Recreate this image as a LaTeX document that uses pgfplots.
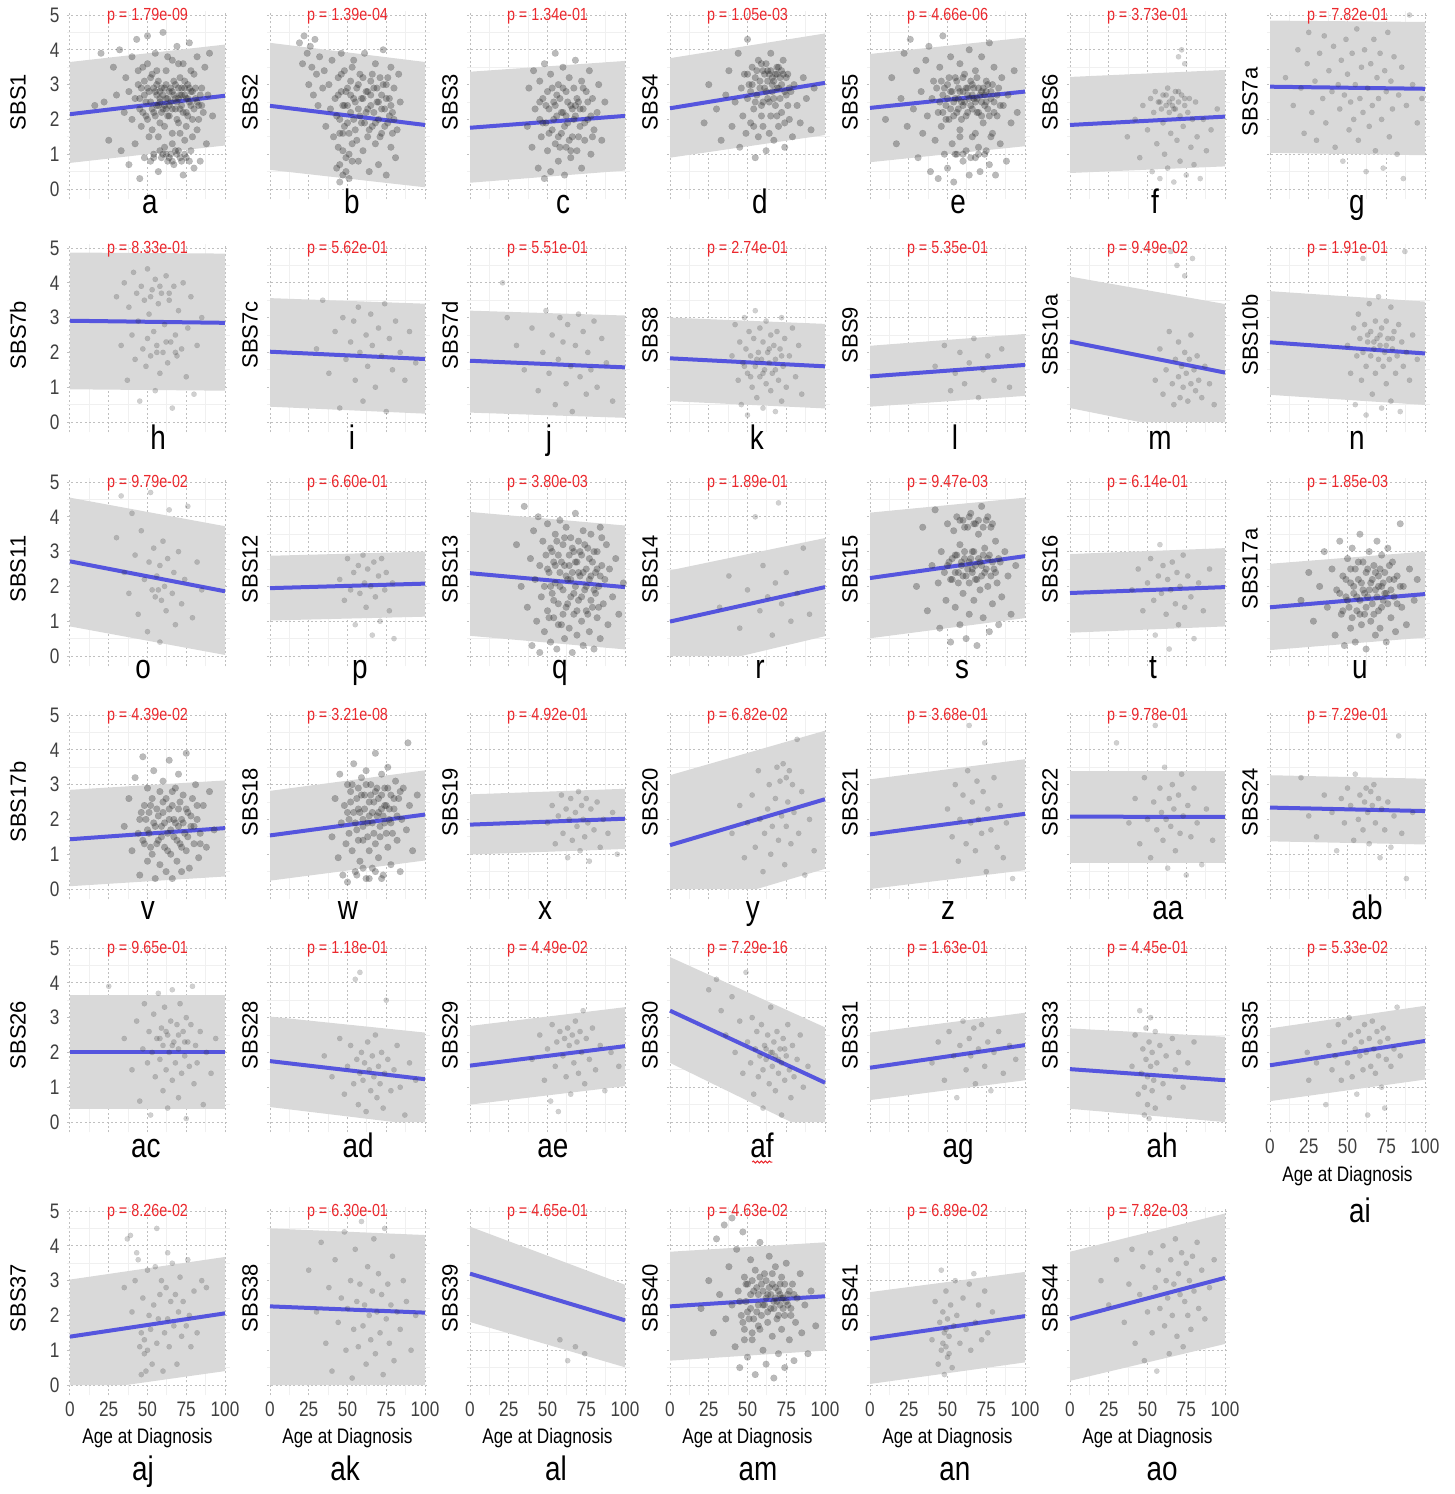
\documentclass[border=0pt]{standalone}
\usepackage{pgfplots}
\pgfplotsset{compat=1.18}
\usepackage{fontspec}
\setmainfont{Liberation Sans}
\newfontfamily\cond[FakeStretch=0.82]{Liberation Sans}
\usetikzlibrary{decorations.pathmorphing}
\definecolor{bandgray}{RGB}{217,217,217}
\definecolor{ptgray}{RGB}{40,40,40}
\definecolor{lineblue}{RGB}{85,85,222}
\definecolor{pred}{RGB}{235,40,45}
\pgfplotsset{
  pnl/.style={scale only axis, width=81.375pt, height=94.308pt,
    xmin=-2, xmax=103, ymin=-0.3, ymax=5.12, clip=false,
    axis line style={draw=none}, major tick length=0pt, minor tick length=0pt,
    xtick={0,25,50,75,100}, ytick={0,1,2,3,4,5},
    minor xtick={12.5,37.5,62.5,87.5}, minor ytick={0.5,1.5,2.5,3.5,4.5},
    grid=both, major grid style={gray!50, line width=0.5pt, dash pattern=on 1pt off 1.2pt},
    minor grid style={gray!12, line width=0.4pt},
    xticklabels={}, yticklabels={}, anchor=south west,
    /pgf/number format/assume math mode=true},
  lft/.style={yticklabels={0,1,2,3,4,5}, yticklabel style={font=\cond\fontsize{10.5}{12}\selectfont, text=black!75, anchor=east, inner sep=0pt, xshift=-3.5pt}},
  bot/.style={xticklabels={0,25,50,75,100}, xticklabel style={font=\cond\fontsize{10.5}{12}\selectfont, text=black!75, anchor=north, inner sep=0pt, yshift=-3pt}},
  band/.style={fill=bandgray, draw=none},
  pts/.style={only marks, mark=*, mark size=1.35pt, color=ptgray, opacity=0.22, mark options={fill=ptgray, draw=ptgray, line width=0.01pt}},
  ptsd/.style={only marks, mark=*, mark size=1.7pt, color=ptgray, opacity=0.32, mark options={fill=ptgray, draw=ptgray, line width=0.01pt}},
  reg/.style={draw=lineblue, line width=2pt, no marks}
}
\newcommand\pv[1]{\node[font=\cond\fontsize{8.75}{10}\selectfont, text=pred] at (axis cs:50,4.97) {p = #1};}
\newcommand\yl[2]{\node[rotate=90, font=\fontsize{11}{13}\selectfont] at (axis cs:#1,2.5) {#2};}
\newcommand\lt[3]{\node[anchor=base, font=\cond\fontsize{17}{20}\selectfont] at (axis cs:#1,#2) {#3};}
\newcommand\xl[1]{\node[anchor=base, font=\cond\fontsize{10.5}{12}\selectfont] at (axis cs:50,#1) {Age at Diagnosis};}
\begin{document}
\begin{tikzpicture}
\useasboundingbox (0,0) rectangle (727.5pt,-747pt);
%================ ROW 1 ================
\begin{axis}[pnl, lft, at={(33.45pt,-99.72pt)}]
\addplot[band] coordinates {(0,0.75)(100,1.25)(100,4.15)(0,3.65)};
\addplot[ptsd] coordinates {(16,2.4)(20,3.9)(22,2.5)(25,1.4)(28,3.5)(30,2.7)(32,4.0)(33,1.1)(35,2.2)(36,3.2)(38,0.7)(38,2.8)(40,3.8)(40,2.0)(42,1.3)(42,2.6)(43,4.3)(44,3.0)(45,0.3)(45,2.3)(46,1.8)(47,3.5)(48,2.7)(48,0.9)(49,2.1)(50,4.4)(50,2.9)(51,1.5)(52,2.5)(52,0.8)(53,3.3)(54,2.2)(54,1.0)(55,2.8)(55,3.9)(56,2.4)(57,0.5)(57,3.1)(58,2.6)(58,1.9)(59,0.9)(60,2.3)(60,4.5)(61,2.9)(61,1.2)(62,2.6)(62,3.4)(63,0.8)(63,2.1)(64,2.8)(65,1.0)(65,2.5)(66,3.7)(66,1.6)(67,2.7)(67,0.7)(68,2.3)(68,3.0)(69,4.1)(69,1.0)(70,2.6)(70,1.9)(71,3.2)(71,0.9)(72,2.4)(72,2.9)(73,0.4)(73,3.6)(74,2.7)(74,1.4)(75,2.2)(75,0.9)(76,3.0)(77,2.5)(77,4.2)(78,1.1)(78,2.8)(79,2.0)(80,3.3)(80,0.6)(81,2.6)(82,1.7)(82,3.8)(83,2.4)(84,0.8)(85,2.9)(86,2.2)(87,3.5)(88,1.3)(89,2.7)(90,3.9)(92,2.1)(56,2.7)(59,2.9)(64,2.4)(66,2.8)(69,2.5)(71,2.7)(74,2.9)(76,2.6)(62,2.3)(58,2.5)(60,1.0)(64,0.9)(68,1.1)(72,0.8)
(45,2.6)(46,2.9)(47,2.2)(48,3.1)(49,2.5)(50,2.0)(51,2.8)(52,3.2)(53,2.3)(54,2.9)(55,2.1)(56,3.0)(57,2.4)(58,2.8)(59,2.2)(60,2.7)(61,2.4)(62,3.0)(63,2.6)(64,2.1)(65,2.9)(66,2.3)(67,3.1)(68,2.6)(69,2.0)(70,2.9)(71,2.3)(72,2.7)(73,2.2)(74,3.1)(75,2.6)(76,2.1)(77,2.9)(78,2.4)(79,2.8)(80,2.3)(81,2.9)(82,2.5)(83,2.0)(84,2.7)(85,2.4)(53,1.7)(57,1.5)(61,1.8)(66,1.3)(71,1.6)(75,1.8)(79,1.5)(54,0.9)(58,1.1)(62,1.0)(66,0.8)(70,1.1)(74,1.0)(77,0.8)(44,3.4)(50,3.6)(56,3.4)(63,3.8)(70,3.6)(78,3.4)};
\addplot[reg] coordinates {(0,2.15)(100,2.68)};
\pv{1.79e-09}\yl{-33.5}{SBS1}\lt{51.6}{-0.69}{a}
\end{axis}
\begin{axis}[pnl, at={(133.45pt,-99.72pt)}]
\addplot[band] coordinates {(0,0.55)(100,0.05)(100,3.65)(0,4.2)};
\addplot[ptsd] coordinates {(19,4.2)(21,3.6)(22,4.4)(24,3.9)(25,3.0)(26,4.1)(27,3.5)(28,2.7)(29,4.3)(30,3.3)(31,2.4)(32,3.8)(34,2.9)(35,3.4)(36,1.8)(38,3.0)(39,2.3)(40,3.7)(41,1.5)(42,2.6)(43,0.6)(44,3.2)(44,1.2)(45,2.0)(45,0.2)(46,2.8)(46,3.9)(47,1.6)(47,0.4)(48,2.4)(48,3.4)(49,0.9)(50,2.9)(50,1.9)(51,0.3)(52,3.1)(52,2.2)(53,1.3)(54,2.6)(54,3.7)(55,1.7)(56,2.9)(57,0.8)(57,2.3)(58,3.3)(59,1.9)(60,2.6)(60,1.1)(61,3.9)(62,2.2)(63,2.8)(63,1.5)(64,0.5)(65,3.1)(65,2.4)(66,1.8)(67,2.9)(68,3.6)(68,1.3)(69,2.5)(70,2.0)(70,0.7)(71,3.2)(72,2.7)(72,1.6)(73,4.0)(74,2.3)(75,0.4)(75,3.0)(76,1.9)(77,2.6)(78,3.5)(78,1.2)(79,2.2)(80,2.9)(81,0.9)(82,1.7)(83,3.3)(84,2.5)
(43,2.1)(44,2.7)(45,1.6)(46,3.3)(47,2.4)(48,1.8)(49,2.8)(50,2.4)(51,1.6)(52,2.7)(53,3.5)(54,2.0)(55,2.5)(56,1.4)(57,3.0)(58,2.1)(59,2.6)(60,3.2)(61,1.9)(62,2.8)(63,2.3)(64,1.7)(65,2.7)(66,3.3)(67,2.2)(68,1.9)(69,2.9)(70,2.5)(71,1.5)(72,2.3)(73,3.0)(74,1.8)(75,2.6)(76,3.2)(77,2.1)(78,2.4)(79,1.6)(80,2.0)(45,0.7)(47,1.1)(49,0.5)(51,1.0)(53,0.8)};
\addplot[reg] coordinates {(0,2.39)(100,1.84)};
\pv{1.39e-04}\yl{-12.9}{SBS2}\lt{52.9}{-0.69}{b}
\end{axis}
\begin{axis}[pnl, at={(233.45pt,-99.72pt)}]
\addplot[band] coordinates {(0,0.18)(100,0.53)(100,3.68)(0,3.37)};
\addplot[ptsd] coordinates {(37,1.8)(38,2.9)(40,1.2)(41,3.4)(42,2.3)(44,0.6)(45,2.0)(45,3.1)(46,1.5)(47,2.6)(48,0.3)(48,3.6)(49,1.9)(50,2.8)(50,1.1)(51,2.3)(52,3.3)(52,0.5)(53,1.7)(54,2.5)(55,3.9)(55,1.3)(56,2.1)(57,3.0)(57,0.8)(58,2.6)(59,1.6)(60,3.5)(60,2.2)(61,0.4)(62,2.8)(62,1.2)(63,1.9)(64,3.2)(65,2.4)(65,0.9)(66,1.5)(67,2.9)(68,2.1)(68,3.7)(69,1.1)(70,2.5)(71,1.8)(72,3.1)(72,0.6)(73,2.3)(74,1.4)(75,2.8)(76,2.0)(77,3.4)(78,1.0)(79,2.6)(80,1.7)(82,2.2)(83,3.0)(85,1.4)(87,2.5)
(45,2.5)(47,1.9)(49,2.4)(51,1.6)(53,2.9)(54,2.0)(56,2.7)(57,1.5)(59,2.2)(60,2.9)(61,1.8)(63,2.5)(64,1.4)(66,2.3)(67,2.0)(69,2.6)(70,1.5)(71,2.3)(73,2.9)(74,1.9)(76,2.5)(78,2.1)(79,1.5)(55,2.4)(62,2.1)(68,2.4)(58,1.2)(65,1.1)};
\addplot[reg] coordinates {(0,1.76)(100,2.1)};
\pv{1.34e-01}\yl{-12.9}{SBS3}\lt{60}{-0.69}{c}
\end{axis}
\begin{axis}[pnl, at={(333.45pt,-99.72pt)}]
\addplot[band] coordinates {(0,0.9)(100,1.55)(100,4.47)(0,3.76)};
\addplot[ptsd] coordinates {(22,1.9)(25,3.0)(30,2.3)(33,1.4)(36,2.7)(38,3.4)(40,1.8)(42,2.5)(44,3.9)(45,1.2)(46,2.9)(47,2.1)(48,3.3)(49,1.6)(50,2.6)(50,4.3)(51,3.0)(52,1.9)(53,3.5)(54,2.3)(55,0.9)(55,3.2)(56,2.7)(57,3.7)(57,1.5)(58,3.1)(59,2.4)(60,3.4)(60,1.8)(61,2.9)(62,3.6)(62,1.1)(63,2.6)(64,3.3)(65,2.1)(65,3.9)(66,2.8)(67,3.1)(67,1.4)(68,2.4)(69,3.5)(70,2.9)(70,1.8)(71,3.2)(72,2.2)(73,3.7)(74,1.2)(75,2.7)(76,3.3)(77,2.0)(78,2.8)(79,1.5)(80,3.0)(82,2.4)(84,1.9)(86,3.2)(88,2.6)(91,1.7)(93,2.9)(63,3.4)(66,3.2)(69,3.3)(72,3.4)
(50,3.3)(52,2.8)(53,3.0)(55,2.5)(56,3.4)(58,2.9)(59,3.6)(60,2.5)(61,3.3)(62,2.8)(63,3.1)(64,2.5)(65,3.4)(66,3.0)(67,2.6)(68,3.3)(69,2.9)(70,3.5)(71,2.6)(72,3.0)(73,3.3)(74,2.8)(75,3.2)(76,2.4)(77,2.9)(54,1.8)(59,2.1)(64,1.6)(69,2.1)(74,1.9)};
\addplot[reg] coordinates {(0,2.32)(100,3.05)};
\pv{1.05e-03}\yl{-12.9}{SBS4}\lt{58}{-0.69}{d}
\end{axis}
\begin{axis}[pnl, at={(433.45pt,-99.72pt)}]
\addplot[band] coordinates {(0,0.77)(100,1.23)(100,4.35)(0,3.88)};
\addplot[ptsd] coordinates {(10,2.0)(14,3.2)(17,1.3)(20,2.6)(22,3.9)(24,1.8)(26,4.3)(28,2.3)(30,3.4)(31,0.9)(33,2.8)(34,1.6)(36,3.7)(37,2.1)(38,4.1)(39,0.5)(40,2.6)(41,3.1)(42,1.4)(43,2.9)(44,0.3)(44,2.2)(45,3.5)(46,1.8)(47,2.7)(47,4.4)(48,1.0)(49,2.4)(50,3.0)(50,0.6)(51,2.0)(52,2.8)(52,3.8)(53,1.3)(54,2.5)(54,0.2)(55,3.2)(56,2.2)(56,1.0)(57,2.9)(58,1.7)(58,3.6)(59,2.5)(60,0.8)(60,2.8)(61,3.3)(62,2.1)(62,1.1)(63,2.7)(64,4.0)(64,0.4)(65,2.4)(66,3.0)(66,1.5)(67,2.6)(68,0.9)(68,3.4)(69,2.2)(70,2.9)(70,1.2)(71,0.5)(72,2.5)(72,3.8)(73,1.9)(74,2.7)(74,1.0)(75,3.1)(76,2.3)(77,0.7)(77,4.2)(78,2.8)(79,1.6)(80,2.5)(80,3.5)(81,0.4)(82,2.1)(83,2.9)(84,1.3)(85,3.2)(86,2.4)(88,0.8)(89,2.7)(91,1.9)(93,3.4)(95,2.2)(57,2.6)(60,2.4)(63,2.9)(66,2.7)(69,2.6)(72,2.8)(75,2.5)
(45,2.5)(46,3.1)(47,2.2)(48,2.9)(49,2.0)(50,2.6)(51,3.2)(52,2.3)(53,2.8)(54,2.1)(55,2.6)(56,3.1)(57,2.3)(58,2.8)(59,2.0)(60,3.2)(61,2.5)(62,2.9)(63,2.2)(64,2.6)(65,3.1)(66,2.3)(67,2.9)(68,2.5)(69,3.2)(70,2.2)(71,2.7)(72,2.1)(73,2.9)(74,2.4)(75,2.8)(76,3.0)(77,2.1)(78,2.6)(79,3.0)(80,2.2)(82,2.7)(84,2.4)(55,1.0)(60,1.0)(65,0.9)(70,1.0)(75,1.1)(58,1.5)(68,1.6)(78,1.5)};
\addplot[reg] coordinates {(0,2.33)(100,2.8)};
\pv{4.66e-06}\yl{-12.9}{SBS5}\lt{56.8}{-0.69}{e}
\end{axis}
\begin{axis}[pnl, at={(533.45pt,-99.72pt)}]
\addplot[band] coordinates {(0,0.46)(100,0.65)(100,3.42)(0,3.22)};
\addplot[pts] coordinates {(37,1.5)(42,2.0)(45,0.9)(47,2.4)(50,1.7)(52,2.6)(53,0.5)(54,2.2)(55,2.8)(56,1.3)(57,2.5)(58,0.3)(59,2.3)(60,2.7)(60,1.9)(61,1.0)(62,2.4)(63,2.9)(63,0.6)(64,2.2)(65,1.6)(66,2.6)(67,0.2)(67,2.3)(68,2.8)(69,1.4)(70,2.5)(70,3.8)(71,2.1)(71,0.8)(72,4.0)(72,2.7)(73,1.8)(74,3.6)(74,2.4)(75,0.4)(76,2.2)(77,2.6)(78,1.2)(79,2.0)(80,0.7)(81,2.5)(82,1.5)(84,0.3)(86,2.0)(88,1.1)(91,1.7)(95,2.3)(58,2.5)(62,2.7)(66,2.4)(70,2.8)(74,2.6)(64,2.5)(68,2.3)};
\addplot[reg] coordinates {(0,1.84)(100,2.08)};
\pv{3.73e-01}\yl{-12.9}{SBS6}\lt{54.8}{-0.69}{f}
\end{axis}
\begin{axis}[pnl, at={(633.45pt,-99.72pt)}]
\addplot[band] coordinates {(0,1.04)(100,0.97)(100,4.8)(0,4.84)};
\addplot[pts] coordinates {(10,3.2)(15,2.4)(18,4.0)(20,2.9)(22,1.6)(24,3.6)(25,4.5)(27,2.2)(29,3.1)(30,1.4)(32,3.9)(34,2.6)(35,4.4)(36,1.9)(38,3.4)(40,2.8)(41,4.1)(42,1.2)(44,3.0)(45,2.3)(46,3.7)(47,0.8)(48,2.7)(49,4.3)(50,3.3)(51,1.7)(52,2.5)(53,3.9)(54,2.0)(55,3.0)(56,4.6)(57,1.4)(58,2.6)(59,3.5)(60,2.2)(61,4.0)(62,0.5)(63,2.9)(64,1.8)(65,3.6)(66,2.4)(67,4.3)(68,1.1)(69,3.2)(70,2.6)(71,3.9)(72,2.0)(73,0.6)(74,3.4)(75,2.8)(76,4.5)(77,1.5)(78,3.1)(79,2.3)(80,3.8)(82,1.0)(83,2.7)(85,3.5)(86,0.3)(88,2.4)(90,5.0)(92,3.0)(95,1.9)(98,2.6)};
\addplot[reg] coordinates {(0,2.94)(100,2.88)};
\pv{7.82e-01}\yl{-12.9}{SBS7a}\lt{56.1}{-0.69}{g}
\end{axis}
%================ ROW 2 ================
\begin{axis}[pnl, lft, at={(33.45pt,-216.22pt)}]
\addplot[band] coordinates {(0,0.94)(100,0.9)(100,4.84)(0,4.87)};
\addplot[pts] coordinates {(30,3.6)(33,2.2)(35,4.0)(37,1.2)(38,3.3)(40,2.5)(41,4.3)(42,1.8)(43,3.7)(44,2.9)(45,0.6)(46,3.9)(47,2.1)(48,3.5)(49,1.6)(50,4.4)(50,2.4)(51,3.1)(52,1.9)(53,3.8)(54,2.6)(55,0.9)(55,4.1)(56,2.2)(57,3.4)(58,1.4)(59,3.7)(60,2.0)(61,2.8)(62,4.2)(63,1.7)(64,3.5)(65,2.3)(66,0.4)(67,3.9)(68,2.5)(69,1.9)(70,3.2)(72,2.1)(73,4.0)(75,1.3)(76,2.7)(78,3.6)(80,0.8)(82,2.2)(85,3.0)(52,3.6)(58,3.9)(64,3.7)(56,2.0)(62,2.3)(68,2.0)};
\addplot[reg] coordinates {(0,2.91)(100,2.85)};
\pv{8.33e-01}\yl{-33.5}{SBS7b}\lt{56.8}{-0.8}{h}
\end{axis}
\begin{axis}[pnl, at={(133.45pt,-216.22pt)}]
\addplot[band] coordinates {(0,0.44)(100,0.24)(100,3.4)(0,3.56)};
\addplot[pts] coordinates {(30,2.1)(34,3.5)(38,1.4)(42,2.6)(45,0.4)(47,3.0)(49,1.8)(52,2.3)(54,2.9)(55,1.2)(57,3.3)(58,2.0)(60,0.6)(62,2.5)(63,1.6)(65,3.1)(66,2.2)(68,1.0)(70,2.7)(72,1.9)(74,3.4)(75,0.3)(77,2.4)(79,1.5)(81,2.9)(84,2.0)(87,1.2)(90,2.6)(94,1.7)};
\addplot[reg] coordinates {(0,2.02)(100,1.81)};
\pv{5.62e-01}\yl{-12.9}{SBS7c}\lt{52.9}{-0.8}{i}
\end{axis}
\begin{axis}[pnl, at={(233.45pt,-216.22pt)}]
\addplot[band] coordinates {(0,0.27)(100,0.12)(100,3.06)(0,3.2)};
\addplot[pts] coordinates {(21,4.0)(24,3.0)(30,2.2)(35,1.5)(40,2.7)(44,0.9)(47,2.0)(49,3.2)(51,1.4)(53,2.5)(55,0.5)(57,1.8)(58,3.0)(60,2.3)(62,1.1)(63,2.8)(65,1.6)(66,0.3)(68,2.2)(70,3.1)(71,1.3)(73,2.6)(75,0.8)(76,2.0)(78,1.5)(80,2.9)(82,1.0)(85,2.4)(88,1.7)(92,0.6)};
\addplot[reg] coordinates {(0,1.76)(100,1.57)};
\pv{5.51e-01}\yl{-12.9}{SBS7d}\lt{51}{-0.8}{j}
\end{axis}
\begin{axis}[pnl, at={(333.45pt,-216.22pt)}]
\addplot[band] coordinates {(0,0.6)(100,0.39)(100,2.82)(0,3.0)};
\addplot[pts] coordinates {(40,1.9)(42,2.8)(44,1.2)(45,2.3)(46,0.5)(47,1.7)(48,3.0)(49,2.1)(50,1.4)(50,0.2)(51,2.6)(52,1.9)(53,1.0)(54,2.4)(55,1.6)(55,3.2)(56,0.7)(57,2.0)(58,1.3)(58,2.7)(59,1.8)(60,0.4)(60,2.3)(61,1.5)(62,2.9)(62,1.1)(63,2.0)(64,1.7)(65,0.9)(65,2.5)(66,1.4)(67,2.2)(68,0.3)(68,1.8)(69,2.6)(70,1.2)(71,2.1)(72,0.6)(72,3.0)(73,1.6)(74,2.4)(75,1.0)(77,1.9)(79,2.7)(81,1.3)(83,2.2)(85,0.8)(48,1.6)(52,1.3)(56,1.8)(60,1.4)(64,2.1)(68,1.5)(72,1.9)};
\addplot[reg] coordinates {(0,1.83)(100,1.6)};
\pv{2.74e-01}\yl{-12.9}{SBS8}\lt{56.1}{-0.8}{k}
\end{axis}
\begin{axis}[pnl, at={(433.45pt,-216.22pt)}]
\addplot[band] coordinates {(0,0.44)(100,0.75)(100,2.53)(0,2.19)};
\addplot[pts] coordinates {(42,1.6)(48,2.2)(52,0.9)(55,1.4)(58,2.0)(61,1.1)(64,1.7)(67,2.4)(70,0.7)(73,1.5)(76,1.9)(80,1.2)(85,2.1)(90,1.0)};
\addplot[reg] coordinates {(0,1.31)(100,1.64)};
\pv{5.35e-01}\yl{-12.9}{SBS9}\lt{54.8}{-0.8}{l}
\end{axis}
\begin{axis}[pnl, at={(533.45pt,-216.22pt)}]
\addplot[band] coordinates {(0,0.4)(45,0)(100,0)(100,3.39)(0,4.18)};
\addplot[pts] coordinates {(55,1.2)(58,2.1)(60,0.8)(62,1.5)(64,2.6)(65,4.9)(66,1.1)(67,0.5)(68,1.8)(69,4.5)(70,1.3)(70,2.3)(71,0.7)(72,1.6)(73,1.0)(74,2.0)(74,4.2)(75,1.4)(76,0.6)(77,1.8)(78,1.1)(78,2.5)(79,4.7)(80,1.5)(81,0.9)(82,1.9)(83,1.2)(85,0.7)(87,1.6)(90,1.1)(93,0.5)};
\addplot[reg] coordinates {(0,2.31)(100,1.42)};
\pv{9.49e-02}\yl{-12.9}{SBS10a}\lt{58}{-0.8}{m}
\end{axis}
\begin{axis}[pnl, at={(633.45pt,-216.22pt)}]
\addplot[band] coordinates {(0,0.78)(100,0.49)(100,3.46)(0,3.76)};
\addplot[pts] coordinates {(50,2.2)(52,1.4)(54,2.7)(55,0.5)(56,1.9)(57,3.1)(58,2.4)(59,1.2)(60,2.0)(60,4.7)(61,2.8)(62,1.6)(62,0.2)(63,2.3)(64,3.4)(65,1.9)(65,2.6)(66,0.8)(67,2.1)(68,2.9)(68,1.4)(69,2.4)(70,1.8)(70,3.6)(71,2.2)(72,0.4)(72,2.7)(73,1.6)(74,2.0)(75,2.9)(75,1.1)(76,2.4)(77,1.8)(78,3.3)(78,0.6)(79,2.1)(80,2.6)(81,1.4)(82,1.9)(83,2.8)(84,0.3)(85,2.3)(86,1.6)(87,4.9)(88,2.0)(90,1.2)(92,2.5)(95,1.8)(63,2.5)(67,2.3)(71,2.5)(75,2.2)(79,2.4)};
\addplot[reg] coordinates {(0,2.29)(100,1.97)};
\pv{1.91e-01}\yl{-12.9}{SBS10b}\lt{56.1}{-0.8}{n}
\end{axis}
%================ ROW 3 ================
\begin{axis}[pnl, lft, at={(33.45pt,-333.22pt)}]
\addplot[band] coordinates {(0,0.85)(100,0.03)(100,3.73)(0,4.55)};
\addplot[pts] coordinates {(30,3.4)(33,4.6)(35,2.4)(38,1.8)(40,4.1)(42,2.9)(44,1.2)(46,3.6)(48,2.2)(50,0.7)(51,2.7)(52,4.7)(53,1.9)(54,3.1)(55,1.7)(56,2.3)(57,1.9)(58,0.4)(58,2.6)(59,1.6)(60,3.3)(61,2.0)(62,1.3)(63,2.8)(64,4.2)(66,1.8)(67,2.4)(68,0.9)(70,3.0)(72,1.5)(74,2.2)(76,4.3)(79,1.1)(82,2.7)(85,1.9)};
\addplot[reg] coordinates {(0,2.72)(100,1.86)};
\pv{9.79e-02}\yl{-33.5}{SBS11}\lt{47.1}{-0.66}{o}
\end{axis}
\begin{axis}[pnl, at={(133.45pt,-333.22pt)}]
\addplot[band] coordinates {(0,1.02)(100,1.13)(100,3.0)(0,2.88)};
\addplot[pts] coordinates {(45,2.2)(48,1.6)(50,2.8)(52,1.9)(54,2.4)(55,0.9)(57,2.6)(58,1.8)(60,2.9)(61,2.1)(62,1.4)(63,2.5)(65,2.0)(66,0.6)(67,2.7)(68,1.7)(70,2.3)(71,1.0)(72,2.8)(74,1.9)(75,2.4)(77,1.3)(79,2.1)(80,0.5)};
\addplot[reg] coordinates {(0,1.95)(100,2.08)};
\pv{6.60e-01}\yl{-12.9}{SBS12}\lt{58}{-0.66}{p}
\end{axis}
\begin{axis}[pnl, at={(233.45pt,-333.22pt)}]
\addplot[band] coordinates {(0,0.58)(100,0.19)(100,3.75)(0,4.14)};
\addplot[ptsd] coordinates {(30,3.2)(33,2.0)(35,4.3)(37,1.4)(39,2.8)(40,0.3)(41,3.6)(42,2.2)(43,1.0)(44,4.0)(45,2.6)(45,0.1)(46,1.7)(47,3.3)(48,2.0)(48,0.7)(49,2.9)(50,1.3)(50,3.8)(51,2.4)(52,0.4)(52,3.1)(53,1.8)(54,2.7)(54,1.1)(55,3.5)(55,2.1)(56,0.2)(57,2.9)(57,1.5)(58,3.9)(58,2.4)(59,0.9)(60,1.9)(60,3.2)(61,2.6)(61,0.5)(62,1.4)(62,3.7)(63,2.2)(64,2.9)(64,0.8)(65,1.7)(65,3.4)(66,2.4)(66,0.1)(67,1.2)(67,3.0)(68,2.0)(68,4.1)(69,2.7)(69,0.6)(70,1.6)(70,3.3)(71,2.3)(72,1.0)(72,2.9)(73,0.3)(73,3.6)(74,1.9)(75,2.5)(75,1.3)(76,3.1)(77,0.7)(77,2.2)(78,1.6)(78,3.5)(79,2.7)(80,0.2)(80,1.9)(81,2.4)(82,3.0)(82,1.1)(83,2.0)(84,3.7)(84,0.5)(85,2.6)(86,1.5)(87,2.2)(88,3.2)(89,0.9)(90,2.5)(92,1.7)(94,2.8)(96,1.2)(99,2.1)
(50,2.5)(51,1.1)(52,2.0)(53,3.0)(54,1.6)(55,2.6)(56,3.3)(57,0.9)(58,2.0)(59,2.7)(60,1.2)(61,3.4)(62,2.3)(63,1.5)(64,2.6)(65,2.2)(66,3.1)(67,1.8)(68,2.7)(69,1.3)(70,2.4)(71,3.0)(72,1.7)(73,2.4)(74,3.2)(75,2.0)(76,1.2)(77,2.8)(78,2.3)(79,1.4)(80,3.0)(81,1.8)(82,2.5)(83,1.4)(84,2.3)(85,3.4)};
\addplot[reg] coordinates {(0,2.38)(100,1.98)};
\pv{3.80e-03}\yl{-12.9}{SBS13}\lt{58}{-0.66}{q}
\end{axis}
\begin{axis}[pnl, at={(333.45pt,-333.22pt)}]
\addplot[band] coordinates {(0,0)(46,0)(100,0.57)(100,3.39)(0,2.46)};
\addplot[pts] coordinates {(32,1.4)(38,2.3)(45,0.8)(50,1.9)(55,4.0)(58,1.3)(60,2.6)(63,1.7)(66,0.6)(68,2.1)(70,4.4)(72,1.5)(75,2.4)(78,1.0)(82,1.8)(86,3.1)(90,1.2)};
\addplot[reg] coordinates {(0,0.99)(100,1.98)};
\pv{1.89e-01}\yl{-12.9}{SBS14}\lt{58}{-0.66}{r}
\end{axis}
\begin{axis}[pnl, at={(433.45pt,-333.22pt)}]
\addplot[band] coordinates {(0,0.51)(100,1.09)(100,4.55)(0,4.12)};
\addplot[ptsd] coordinates {(30,2.0)(34,3.7)(37,1.3)(40,2.6)(42,4.2)(44,2.1)(45,0.8)(46,3.0)(48,2.4)(49,1.6)(50,3.8)(51,2.7)(52,0.4)(53,2.2)(54,3.6)(55,2.9)(55,1.4)(56,4.0)(57,2.4)(58,0.9)(58,3.2)(59,2.6)(60,3.9)(60,1.8)(61,2.8)(62,0.5)(62,2.3)(63,3.7)(64,2.7)(64,1.2)(65,4.1)(66,2.5)(66,3.0)(67,1.6)(68,3.8)(68,2.2)(69,0.3)(70,2.8)(70,3.5)(71,1.9)(72,2.6)(72,4.3)(73,1.1)(74,3.1)(74,2.4)(75,3.9)(76,2.0)(77,0.7)(77,2.9)(78,3.7)(79,1.5)(80,2.5)(81,3.3)(82,2.1)(83,0.9)(84,2.7)(85,1.7)(87,3.0)(89,2.3)(91,1.2)(94,2.6)
(50,2.6)(52,2.2)(53,2.8)(55,2.4)(56,2.9)(57,2.1)(59,2.7)(60,2.3)(61,3.0)(63,2.5)(64,2.1)(65,2.8)(66,2.4)(67,3.0)(68,2.6)(69,2.2)(71,2.7)(72,2.3)(73,2.9)(75,2.5)(76,2.8)(78,2.3)(79,2.7)(81,2.4)(83,2.8)(58,3.9)(61,3.7)(64,4.0)(67,3.8)(70,3.9)(73,3.7)(76,4.0)(79,3.8)};
\addplot[reg] coordinates {(0,2.24)(100,2.87)};
\pv{9.47e-03}\yl{-12.9}{SBS15}\lt{59.4}{-0.66}{s}
\end{axis}
\begin{axis}[pnl, at={(533.45pt,-333.22pt)}]
\addplot[band] coordinates {(0,0.67)(100,0.85)(100,3.1)(0,2.93)};
\addplot[pts] coordinates {(40,1.9)(44,2.5)(47,1.3)(50,2.1)(52,2.8)(54,1.6)(55,0.6)(57,2.3)(58,3.2)(59,1.8)(60,2.6)(62,1.2)(63,2.2)(64,0.2)(65,1.9)(66,2.7)(68,1.5)(69,2.4)(70,0.9)(71,2.0)(73,2.9)(74,1.4)(76,2.3)(78,1.7)(80,0.5)(83,2.1)(86,1.3)(90,2.5)};
\addplot[reg] coordinates {(0,1.81)(100,1.98)};
\pv{6.14e-01}\yl{-12.9}{SBS16}\lt{53.5}{-0.66}{t}
\end{axis}
\begin{axis}[pnl, at={(633.45pt,-333.22pt)}]
\addplot[band] coordinates {(0,0.17)(100,0.53)(100,3.0)(0,2.65)};
\addplot[ptsd] coordinates {(20,1.6)(25,2.4)(28,1.0)(32,2.0)(35,3.0)(37,1.4)(40,2.5)(42,0.6)(43,1.9)(45,3.3)(46,1.2)(47,2.3)(48,0.3)(49,1.7)(50,2.8)(51,1.4)(52,2.1)(52,0.8)(53,3.1)(54,1.8)(55,2.5)(55,0.4)(56,1.3)(57,2.2)(58,3.5)(58,1.6)(59,0.9)(60,2.7)(60,1.9)(61,1.2)(62,2.4)(62,0.2)(63,1.7)(64,3.0)(65,2.1)(65,1.0)(66,1.5)(67,2.6)(68,0.6)(68,1.9)(69,3.3)(70,2.3)(70,1.3)(71,0.8)(72,2.0)(72,2.9)(73,1.6)(74,2.4)(75,0.4)(75,1.8)(76,3.1)(77,2.2)(78,1.1)(79,2.7)(80,1.7)(81,0.7)(82,2.3)(84,3.8)(85,1.4)(86,2.0)(88,0.9)(90,2.5)(93,1.6)(95,2.2)
(45,1.8)(47,1.3)(49,2.2)(50,1.6)(52,2.5)(53,1.1)(54,2.0)(56,1.7)(57,2.7)(58,1.2)(59,2.1)(61,1.8)(62,1.4)(63,2.5)(64,1.9)(66,2.2)(67,1.2)(68,2.4)(69,1.7)(70,2.0)(71,2.5)(72,1.4)(73,2.1)(74,1.8)(76,1.5)(77,2.6)(78,1.9)(80,2.2)(82,1.5)(84,2.0)};
\addplot[reg] coordinates {(0,1.4)(100,1.78)};
\pv{1.85e-03}\yl{-12.9}{SBS17a}\lt{58}{-0.66}{u}
\end{axis}
%================ ROW 4 ================
\begin{axis}[pnl, lft, at={(33.45pt,-449.72pt)}]
\addplot[band] coordinates {(0,0.08)(100,0.36)(100,3.12)(0,2.85)};
\addplot[ptsd] coordinates {(35,1.8)(38,2.6)(40,1.1)(42,3.2)(44,1.6)(45,0.4)(46,2.2)(47,3.8)(48,1.3)(49,2.0)(50,0.8)(50,2.9)(51,1.6)(52,2.4)(53,1.0)(54,3.4)(54,1.9)(55,0.3)(56,2.3)(57,1.4)(58,2.8)(58,0.7)(59,1.8)(60,3.1)(60,2.2)(61,1.2)(62,0.5)(62,2.6)(63,1.6)(64,3.7)(64,2.0)(65,1.0)(66,2.4)(66,0.3)(67,1.5)(68,2.9)(68,1.9)(69,0.8)(70,2.3)(70,3.3)(71,1.3)(72,2.0)(72,0.5)(73,2.7)(74,1.6)(75,3.9)(75,1.1)(76,2.2)(77,0.6)(78,1.8)(79,2.6)(80,1.3)(81,3.0)(82,2.0)(83,0.9)(84,1.6)(86,2.4)(88,1.2)(90,2.8)(93,1.7)
(45,2.0)(47,1.4)(48,2.4)(50,1.7)(51,2.2)(52,1.2)(53,2.6)(55,1.8)(56,1.3)(57,2.1)(59,1.5)(60,2.5)(61,1.9)(63,1.1)(64,2.3)(65,1.7)(66,2.8)(67,2.0)(69,1.4)(70,1.8)(71,2.5)(72,1.2)(73,1.9)(75,2.3)(76,1.5)(78,2.1)(80,1.8)(82,2.4)(84,1.3)};
\addplot[reg] coordinates {(0,1.43)(100,1.75)};
\pv{4.39e-02}\yl{-33.5}{SBS17b}\lt{50.3}{-0.89}{v}
\end{axis}
\begin{axis}[pnl, at={(133.45pt,-449.72pt)}]
\addplot[band] coordinates {(0,0.24)(100,0.82)(100,3.41)(0,2.82)};
\addplot[ptsd] coordinates {(40,1.5)(42,2.6)(44,0.9)(45,3.3)(46,1.9)(47,0.4)(48,2.4)(49,1.3)(50,3.0)(50,0.2)(51,2.0)(52,2.8)(53,1.1)(54,3.6)(54,2.2)(55,0.5)(56,1.7)(57,2.9)(57,2.3)(58,0.8)(59,3.2)(60,2.0)(60,1.4)(61,2.7)(62,0.3)(62,3.4)(63,1.9)(64,2.5)(64,1.1)(65,3.0)(66,2.2)(66,0.6)(67,1.6)(68,2.8)(68,3.9)(69,2.1)(70,0.9)(70,2.6)(71,1.5)(72,3.3)(72,2.3)(73,0.4)(74,1.9)(74,2.9)(75,2.4)(76,1.2)(76,3.5)(77,2.0)(78,2.7)(78,0.7)(79,1.6)(80,2.3)(81,3.1)(82,1.4)(83,2.6)(84,0.5)(85,2.0)(86,2.9)(88,1.7)(89,4.2)(90,2.4)(92,1.1)(95,2.7)
(50,2.2)(51,1.6)(52,2.5)(53,3.0)(55,1.9)(56,2.6)(57,1.4)(58,2.2)(59,2.7)(60,1.8)(61,2.3)(62,3.0)(63,1.5)(64,2.1)(65,2.7)(66,1.9)(67,2.5)(68,1.3)(69,2.9)(70,2.2)(71,1.8)(72,2.7)(73,2.1)(74,2.4)(75,1.6)(76,2.9)(77,2.3)(78,1.9)(80,2.6)(82,2.1)(84,2.8)(56,0.4)(60,0.6)(64,0.3)(68,0.5)(72,0.3)};
\addplot[reg] coordinates {(0,1.54)(100,2.14)};
\pv{3.21e-08}\yl{-12.9}{SBS18}\lt{50.3}{-0.89}{w}
\end{axis}
\begin{axis}[pnl, at={(233.45pt,-449.72pt)}]
\addplot[band] coordinates {(0,0.99)(100,1.15)(100,2.88)(0,2.72)};
\addplot[pts] coordinates {(50,1.9)(53,2.4)(55,1.3)(57,2.1)(59,2.7)(60,1.6)(62,2.3)(63,0.9)(64,2.0)(65,2.6)(66,1.4)(68,2.2)(69,1.8)(70,2.8)(71,1.1)(72,2.4)(73,2.0)(74,1.5)(75,2.6)(76,1.9)(77,0.8)(78,2.3)(80,1.7)(82,2.5)(84,1.2)(86,2.0)(89,1.6)(92,2.2)(95,1.0)};
\addplot[reg] coordinates {(0,1.85)(100,2.02)};
\pv{4.92e-01}\yl{-12.9}{SBS19}\lt{48.4}{-0.89}{x}
\end{axis}
\begin{axis}[pnl, at={(333.45pt,-449.72pt)}]
\addplot[band] coordinates {(0,0)(56,0)(100,0.58)(100,4.55)(0,3.27)};
\addplot[pts] coordinates {(40,1.6)(45,2.4)(48,0.9)(50,1.9)(53,2.7)(55,1.2)(57,3.4)(58,2.0)(60,0.5)(61,1.6)(63,2.3)(64,3.0)(65,1.0)(66,1.8)(68,2.6)(69,3.5)(70,1.4)(71,3.1)(72,2.1)(73,3.6)(74,0.7)(75,3.2)(75,1.8)(76,2.5)(77,3.4)(78,1.3)(79,3.0)(80,2.2)(82,4.3)(83,1.6)(85,2.8)(87,0.4)(90,2.0)(93,1.1)};
\addplot[reg] coordinates {(0,1.26)(100,2.58)};
\pv{6.82e-02}\yl{-12.9}{SBS20}\lt{53.5}{-0.89}{y}
\end{axis}
\begin{axis}[pnl, at={(433.45pt,-449.72pt)}]
\addplot[band] coordinates {(0,0)(100,0.54)(100,3.73)(0,3.15)};
\addplot[pts] coordinates {(50,2.3)(53,1.5)(55,3.0)(57,0.8)(58,2.0)(60,2.7)(62,1.3)(63,3.4)(64,4.7)(65,1.9)(66,2.5)(68,1.1)(69,3.1)(70,2.0)(72,1.6)(73,2.8)(74,4.2)(75,0.5)(76,2.3)(78,1.7)(80,3.2)(82,1.2)(84,2.4)(86,0.9)(88,1.9)(92,0.3)};
\addplot[reg] coordinates {(0,1.57)(100,2.16)};
\pv{3.68e-01}\yl{-12.9}{SBS21}\lt{50.3}{-0.89}{z}
\end{axis}
\begin{axis}[pnl, at={(533.45pt,-449.72pt)}]
\addplot[band] coordinates {(0,0.75)(100,0.75)(100,3.39)(0,3.39)};
\addplot[pts] coordinates {(30,4.2)(38,1.9)(42,2.6)(45,1.3)(48,3.2)(50,2.0)(52,0.9)(54,2.5)(55,4.7)(56,1.7)(58,2.9)(59,2.2)(60,1.4)(61,3.5)(62,2.0)(63,0.6)(64,2.6)(65,1.8)(66,3.0)(67,2.3)(68,1.1)(70,2.7)(71,1.6)(72,3.3)(73,2.1)(75,0.4)(76,2.4)(78,1.5)(80,2.9)(82,1.9)(85,0.7)(88,2.3)(92,1.4)};
\addplot[reg] coordinates {(0,2.08)(100,2.07)};
\pv{9.78e-01}\yl{-12.9}{SBS22}\lt{63.2}{-0.89}{aa}
\end{axis}
\begin{axis}[pnl, at={(633.45pt,-449.72pt)}]
\addplot[band] coordinates {(0,1.37)(100,1.28)(100,3.17)(0,3.27)};
\addplot[pts] coordinates {(20,3.2)(25,2.1)(30,1.5)(35,2.7)(40,2.2)(43,1.1)(46,2.6)(48,1.9)(50,2.9)(52,2.4)(54,1.4)(55,3.3)(57,2.0)(58,2.7)(60,1.7)(61,2.5)(62,2.9)(63,2.2)(64,1.3)(65,2.8)(66,2.4)(67,3.0)(68,1.9)(70,2.6)(71,0.9)(72,2.3)(74,1.7)(76,2.5)(78,1.2)(80,2.1)(83,4.4)(85,1.6)(88,0.3)(92,2.2)};
\addplot[reg] coordinates {(0,2.34)(100,2.24)};
\pv{7.29e-01}\yl{-12.9}{SBS24}\lt{62.6}{-0.89}{ab}
\end{axis}
%================ ROW 5 ================
\begin{axis}[pnl, lft, at={(33.45pt,-566.22pt)}]
\addplot[band] coordinates {(0,0.36)(100,0.36)(100,3.65)(0,3.65)};
\addplot[pts] coordinates {(25,3.9)(35,2.4)(40,1.5)(43,2.9)(45,0.6)(47,2.1)(48,3.4)(50,1.7)(51,2.6)(52,0.2)(53,2.0)(54,3.1)(55,1.3)(56,2.4)(57,3.7)(58,1.8)(59,2.7)(60,0.9)(60,2.2)(61,3.3)(62,1.5)(63,2.5)(63,0.4)(64,2.0)(65,2.9)(66,1.2)(66,3.8)(67,2.3)(68,1.7)(69,2.8)(70,0.7)(70,2.1)(71,3.4)(72,1.4)(73,2.6)(74,1.9)(75,0.1)(75,3.0)(76,2.3)(77,1.6)(78,2.8)(79,3.9)(80,1.1)(81,2.2)(82,1.7)(84,2.6)(86,0.5)(88,2.0)(91,1.4)(94,2.4)(58,2.4)(62,2.6)(66,2.2)(70,2.5)(74,2.3)};
\addplot[reg] coordinates {(0,2.0)(100,2.0)};
\pv{9.65e-01}\yl{-33.5}{SBS26}\lt{49}{-1.03}{ac}
\end{axis}
\begin{axis}[pnl, at={(133.45pt,-566.22pt)}]
\addplot[band] coordinates {(0,0.43)(80,0)(100,0)(100,2.57)(0,3.03)};
\addplot[pts] coordinates {(35,1.9)(40,1.3)(45,2.4)(48,0.8)(50,1.6)(52,2.2)(54,1.1)(55,4.1)(56,1.8)(57,0.5)(58,1.4)(58,4.3)(59,2.0)(60,1.2)(61,1.7)(62,0.3)(63,2.3)(64,1.5)(65,0.9)(66,1.9)(67,1.3)(68,2.5)(69,0.7)(70,1.6)(71,1.1)(72,2.0)(73,0.4)(74,1.4)(75,3.5)(76,1.8)(78,0.9)(80,1.5)(82,2.2)(84,1.0)(87,0.2)(90,1.7)(94,1.2)};
\addplot[reg] coordinates {(0,1.75)(100,1.23)};
\pv{1.18e-01}\yl{-12.9}{SBS28}\lt{56.8}{-1.03}{ad}
\end{axis}
\begin{axis}[pnl, at={(233.45pt,-566.22pt)}]
\addplot[band] coordinates {(0,0.5)(100,1.03)(100,3.3)(0,2.76)};
\addplot[pts] coordinates {(40,1.8)(45,2.5)(48,1.2)(50,2.1)(52,0.6)(53,2.8)(55,1.6)(56,2.3)(57,0.3)(58,2.6)(60,1.9)(61,2.4)(62,1.3)(63,2.7)(64,2.2)(65,0.8)(66,2.5)(67,1.7)(68,2.9)(69,2.3)(70,1.4)(71,2.6)(72,2.0)(73,3.2)(74,1.1)(75,2.4)(77,1.8)(79,2.7)(81,1.5)(84,2.2)(87,0.9)(91,2.0)(96,1.6)};
\addplot[reg] coordinates {(0,1.62)(100,2.18)};
\pv{4.49e-02}\yl{-12.9}{SBS29}\lt{53.5}{-1.03}{ae}
\end{axis}
\begin{axis}[pnl, at={(333.45pt,-566.22pt)}]
\addplot[band] coordinates {(0,1.7)(78,0)(100,0)(100,2.72)(0,4.74)};
\addplot[pts] coordinates {(25,3.8)(30,4.1)(33,3.2)(36,2.5)(40,3.6)(42,2.0)(45,2.9)(47,1.4)(49,4.3)(50,2.3)(52,1.7)(53,3.0)(54,0.8)(55,2.1)(56,2.6)(57,1.3)(58,1.9)(59,2.8)(60,1.5)(60,0.4)(61,2.2)(62,1.8)(63,2.5)(64,1.1)(65,2.0)(65,3.3)(66,1.6)(67,2.3)(68,0.9)(68,1.9)(69,2.6)(70,1.4)(71,2.1)(72,0.2)(72,1.7)(73,2.4)(74,1.2)(75,1.9)(76,2.8)(77,1.5)(78,0.7)(79,2.2)(80,1.3)(82,1.8)(84,2.5)(86,1.0)(89,1.6)(62,2.1)(66,2.0)(70,1.8)(74,2.1)};
\addplot[reg] coordinates {(0,3.2)(100,1.13)};
\pv{7.29e-16}\yl{-12.9}{SBS30}\lt{59.4}{-1.03}{af}
\draw[pred, line width=0.5pt, decorate, decoration={snake, amplitude=0.5pt, segment length=2pt}] (axis cs:53,-1.15) -- (axis cs:66,-1.15);
\end{axis}
\begin{axis}[pnl, at={(433.45pt,-566.22pt)}]
\addplot[band] coordinates {(0,0.63)(100,1.2)(100,3.14)(0,2.57)};
\addplot[pts] coordinates {(40,1.7)(44,2.3)(48,1.2)(51,2.6)(54,1.9)(56,0.7)(58,2.2)(60,2.9)(62,1.5)(64,2.4)(65,1.9)(67,2.7)(68,1.1)(70,2.1)(72,2.8)(74,1.6)(76,2.3)(78,0.9)(80,2.0)(83,2.6)(86,1.4)(90,2.2)(94,1.8)};
\addplot[reg] coordinates {(0,1.56)(100,2.21)};
\pv{1.63e-01}\yl{-12.9}{SBS31}\lt{56.8}{-1.03}{ag}
\end{axis}
\begin{axis}[pnl, at={(533.45pt,-566.22pt)}]
\addplot[band] coordinates {(0,0.38)(100,0)(100,2.45)(0,2.69)};
\addplot[pts] coordinates {(40,1.6)(42,2.5)(44,0.8)(45,3.2)(46,1.4)(47,2.1)(48,0.2)(48,1.0)(49,2.7)(49,1.8)(50,0.5)(50,1.3)(51,2.3)(51,0.1)(52,1.6)(52,3.0)(53,0.9)(53,2.0)(54,1.2)(55,2.6)(55,0.4)(56,1.7)(58,2.2)(60,1.1)(62,1.9)(64,0.7)(66,2.4)(68,1.5)(70,2.0)(73,1.0)(76,1.7)(80,2.3)};
\addplot[reg] coordinates {(0,1.52)(100,1.2)};
\pv{4.45e-01}\yl{-12.9}{SBS33}\lt{59.4}{-1.03}{ah}
\end{axis}
\begin{axis}[pnl, bot, at={(633.45pt,-566.22pt)}]
\addplot[band] coordinates {(0,0.6)(100,1.22)(100,3.34)(0,2.69)};
\addplot[pts] coordinates {(24,2.0)(25,1.2)(30,1.7)(36,0.5)(38,2.2)(40,1.5)(42,1.9)(44,2.8)(46,1.2)(48,2.3)(50,1.7)(51,3.0)(52,2.5)(53,1.3)(55,2.1)(56,0.8)(57,2.6)(58,1.9)(59,2.3)(60,1.5)(61,2.8)(62,2.0)(63,0.2)(64,2.4)(65,1.6)(66,2.9)(67,2.1)(68,1.4)(69,2.6)(70,1.9)(71,2.3)(72,1.0)(73,2.7)(74,0.4)(75,1.8)(76,2.4)(78,1.6)(80,2.1)(82,3.3)(84,1.9)};
\addplot[reg] coordinates {(0,1.63)(100,2.33)};
\pv{5.33e-02}\yl{-12.9}{SBS35}\xl{-1.72}\lt{58}{-2.9}{ai}
\end{axis}
%================ ROW 6 ================
\begin{axis}[pnl, lft, bot, at={(33.45pt,-697.72pt)}]
\addplot[band] coordinates {(0,0)(36,0)(100,0.4)(100,3.68)(0,3.03)};
\addplot[pts] coordinates {(35,2.8)(37,4.2)(39,4.3)(40,2.1)(42,3.0)(43,3.8)(44,3.6)(45,1.1)(46,0.3)(46,1.5)(47,2.5)(48,0.9)(48,1.3)(49,0.4)(50,3.3)(50,1.0)(51,2.0)(52,1.6)(53,0.6)(54,2.3)(55,3.4)(56,4.5)(56,1.2)(57,1.9)(58,2.6)(59,3.0)(60,0.4)(61,1.5)(62,2.8)(63,3.8)(63,1.9)(64,1.1)(65,2.4)(66,3.5)(67,1.7)(68,2.6)(69,0.6)(70,2.1)(71,3.1)(72,1.4)(73,2.4)(75,1.7)(76,3.6)(77,2.0)(78,1.1)(80,2.7)(82,1.5)(85,3.0)(88,2.8)};
\addplot[reg] coordinates {(0,1.39)(100,2.06)};
\pv{8.26e-02}\yl{-33.5}{SBS37}\xl{-1.67}\lt{47.1}{-2.73}{aj}
\end{axis}
\begin{axis}[pnl, bot, at={(133.45pt,-697.72pt)}]
\addplot[band] coordinates {(0,0)(100,0)(100,4.31)(0,4.5)};
\addplot[pts] coordinates {(25,3.3)(30,2.1)(33,4.1)(36,1.2)(38,2.8)(40,0.4)(42,3.6)(44,1.8)(46,2.5)(48,4.4)(49,1.0)(50,2.2)(52,3.0)(53,0.2)(54,1.6)(55,3.9)(56,2.4)(57,1.1)(58,2.9)(59,4.7)(60,1.7)(61,2.3)(62,0.6)(63,3.4)(64,2.0)(65,1.3)(66,2.7)(67,4.2)(68,0.9)(69,2.1)(70,3.2)(71,1.5)(72,2.6)(73,0.3)(74,4.5)(75,1.9)(76,2.9)(77,1.2)(78,2.3)(79,3.7)(80,0.7)(82,2.1)(84,1.6)(86,3.0)(88,2.4)(91,1.0)(94,2.0)};
\addplot[reg] coordinates {(0,2.26)(100,2.08)};
\pv{6.30e-01}\yl{-12.9}{SBS38}\xl{-1.67}\lt{48.4}{-2.73}{ak}
\end{axis}
\begin{axis}[pnl, bot, at={(233.45pt,-697.72pt)}]
\addplot[band] coordinates {(0,1.81)(100,0.51)(100,2.88)(0,4.55)};
\addplot[pts] coordinates {(58,1.3)(63,0.7)(68,1.1)(74,0.9)};
\addplot[reg] coordinates {(0,3.2)(100,1.86)};
\pv{4.65e-01}\yl{-12.9}{SBS39}\xl{-1.67}\lt{55.5}{-2.73}{al}
\end{axis}
\begin{axis}[pnl, bot, at={(333.45pt,-697.72pt)}]
\addplot[band] coordinates {(0,0.7)(100,0.99)(100,4.1)(0,3.83)};
\addplot[ptsd] coordinates {(20,2.2)(25,3.0)(28,1.5)(30,4.2)(32,2.6)(35,4.6)(36,1.9)(38,3.4)(40,4.8)(40,2.3)(42,1.1)(43,3.9)(44,2.7)(45,0.5)(46,2.0)(47,4.4)(48,1.6)(48,3.1)(49,2.4)(50,0.8)(50,2.9)(51,1.9)(52,3.6)(52,2.2)(53,1.3)(54,2.7)(55,0.3)(55,3.3)(56,2.1)(57,2.6)(58,1.6)(58,4.1)(59,2.9)(60,2.3)(60,1.0)(61,3.2)(62,2.5)(62,0.6)(63,1.8)(64,2.8)(64,3.7)(65,2.2)(66,1.4)(66,2.9)(67,0.2)(68,2.5)(68,3.4)(69,1.9)(70,2.7)(70,0.9)(71,2.3)(72,3.1)(72,1.6)(73,2.5)(74,0.5)(74,2.0)(75,3.5)(76,2.6)(77,1.3)(78,2.2)(79,2.9)(80,0.7)(81,1.8)(82,2.5)(84,3.2)(85,1.5)(87,2.3)(89,0.9)(91,2.7)(94,1.7)(63,2.6)(67,2.4)(71,2.6)(75,2.4)
(45,2.4)(47,1.8)(49,2.9)(50,2.1)(52,2.6)(53,3.0)(54,1.9)(56,2.8)(57,2.3)(58,3.1)(59,2.0)(60,2.7)(61,2.3)(62,3.0)(63,2.1)(65,2.6)(66,3.2)(67,2.2)(68,2.8)(69,2.4)(70,2.0)(71,2.9)(72,2.5)(73,2.2)(74,2.9)(76,2.3)(77,2.7)(78,2.0)(80,2.6)(48,1.3)(53,1.5)(57,1.7)};
\addplot[reg] coordinates {(0,2.26)(100,2.55)};
\pv{4.63e-02}\yl{-12.9}{SBS40}\xl{-1.67}\lt{56.8}{-2.73}{am}
\end{axis}
\begin{axis}[pnl, bot, at={(433.45pt,-697.72pt)}]
\addplot[band] coordinates {(0,0.03)(100,0.65)(100,3.25)(0,2.67)};
\addplot[pts] coordinates {(40,1.3)(42,2.4)(44,0.6)(45,1.8)(46,3.3)(46,1.0)(47,2.1)(48,0.3)(48,1.5)(49,2.7)(49,1.1)(50,0.8)(50,1.9)(51,1.4)(52,2.3)(53,0.5)(54,1.7)(55,3.0)(56,2.0)(58,1.2)(60,2.5)(62,1.6)(64,2.9)(65,1.0)(67,3.2)(68,1.8)(70,2.3)(72,1.3)(74,2.7)(76,1.5)(79,2.1)(47,1.2)(49,1.6)(51,0.9)};
\addplot[reg] coordinates {(0,1.33)(100,1.98)};
\pv{6.89e-02}\yl{-12.9}{SBS41}\xl{-1.67}\lt{54.8}{-2.73}{an}
\end{axis}
\begin{axis}[pnl, bot, at={(533.45pt,-697.72pt)}]
\addplot[band] coordinates {(0,0.12)(100,1.18)(100,4.93)(0,3.83)};
\addplot[pts] coordinates {(20,3.0)(25,2.3)(30,3.6)(35,1.8)(38,2.9)(40,3.9)(42,1.2)(45,2.6)(47,3.4)(48,0.7)(50,2.1)(52,3.8)(53,1.5)(55,2.8)(56,0.4)(57,3.3)(58,2.2)(60,4.0)(61,1.7)(62,3.0)(63,2.5)(64,0.9)(65,3.6)(66,2.0)(67,2.9)(68,4.2)(69,1.4)(70,3.2)(71,2.6)(72,3.8)(73,1.1)(74,2.4)(75,3.5)(76,2.0)(77,3.0)(78,1.6)(79,3.7)(80,2.7)(82,4.1)(83,2.2)(85,3.3)(87,1.9)(90,2.8)(93,3.6)};
\addplot[reg] coordinates {(0,1.9)(100,3.08)};
\pv{7.82e-03}\yl{-12.9}{SBS44}\xl{-1.67}\lt{59.4}{-2.73}{ao}
\end{axis}
\end{tikzpicture}
\end{document}
